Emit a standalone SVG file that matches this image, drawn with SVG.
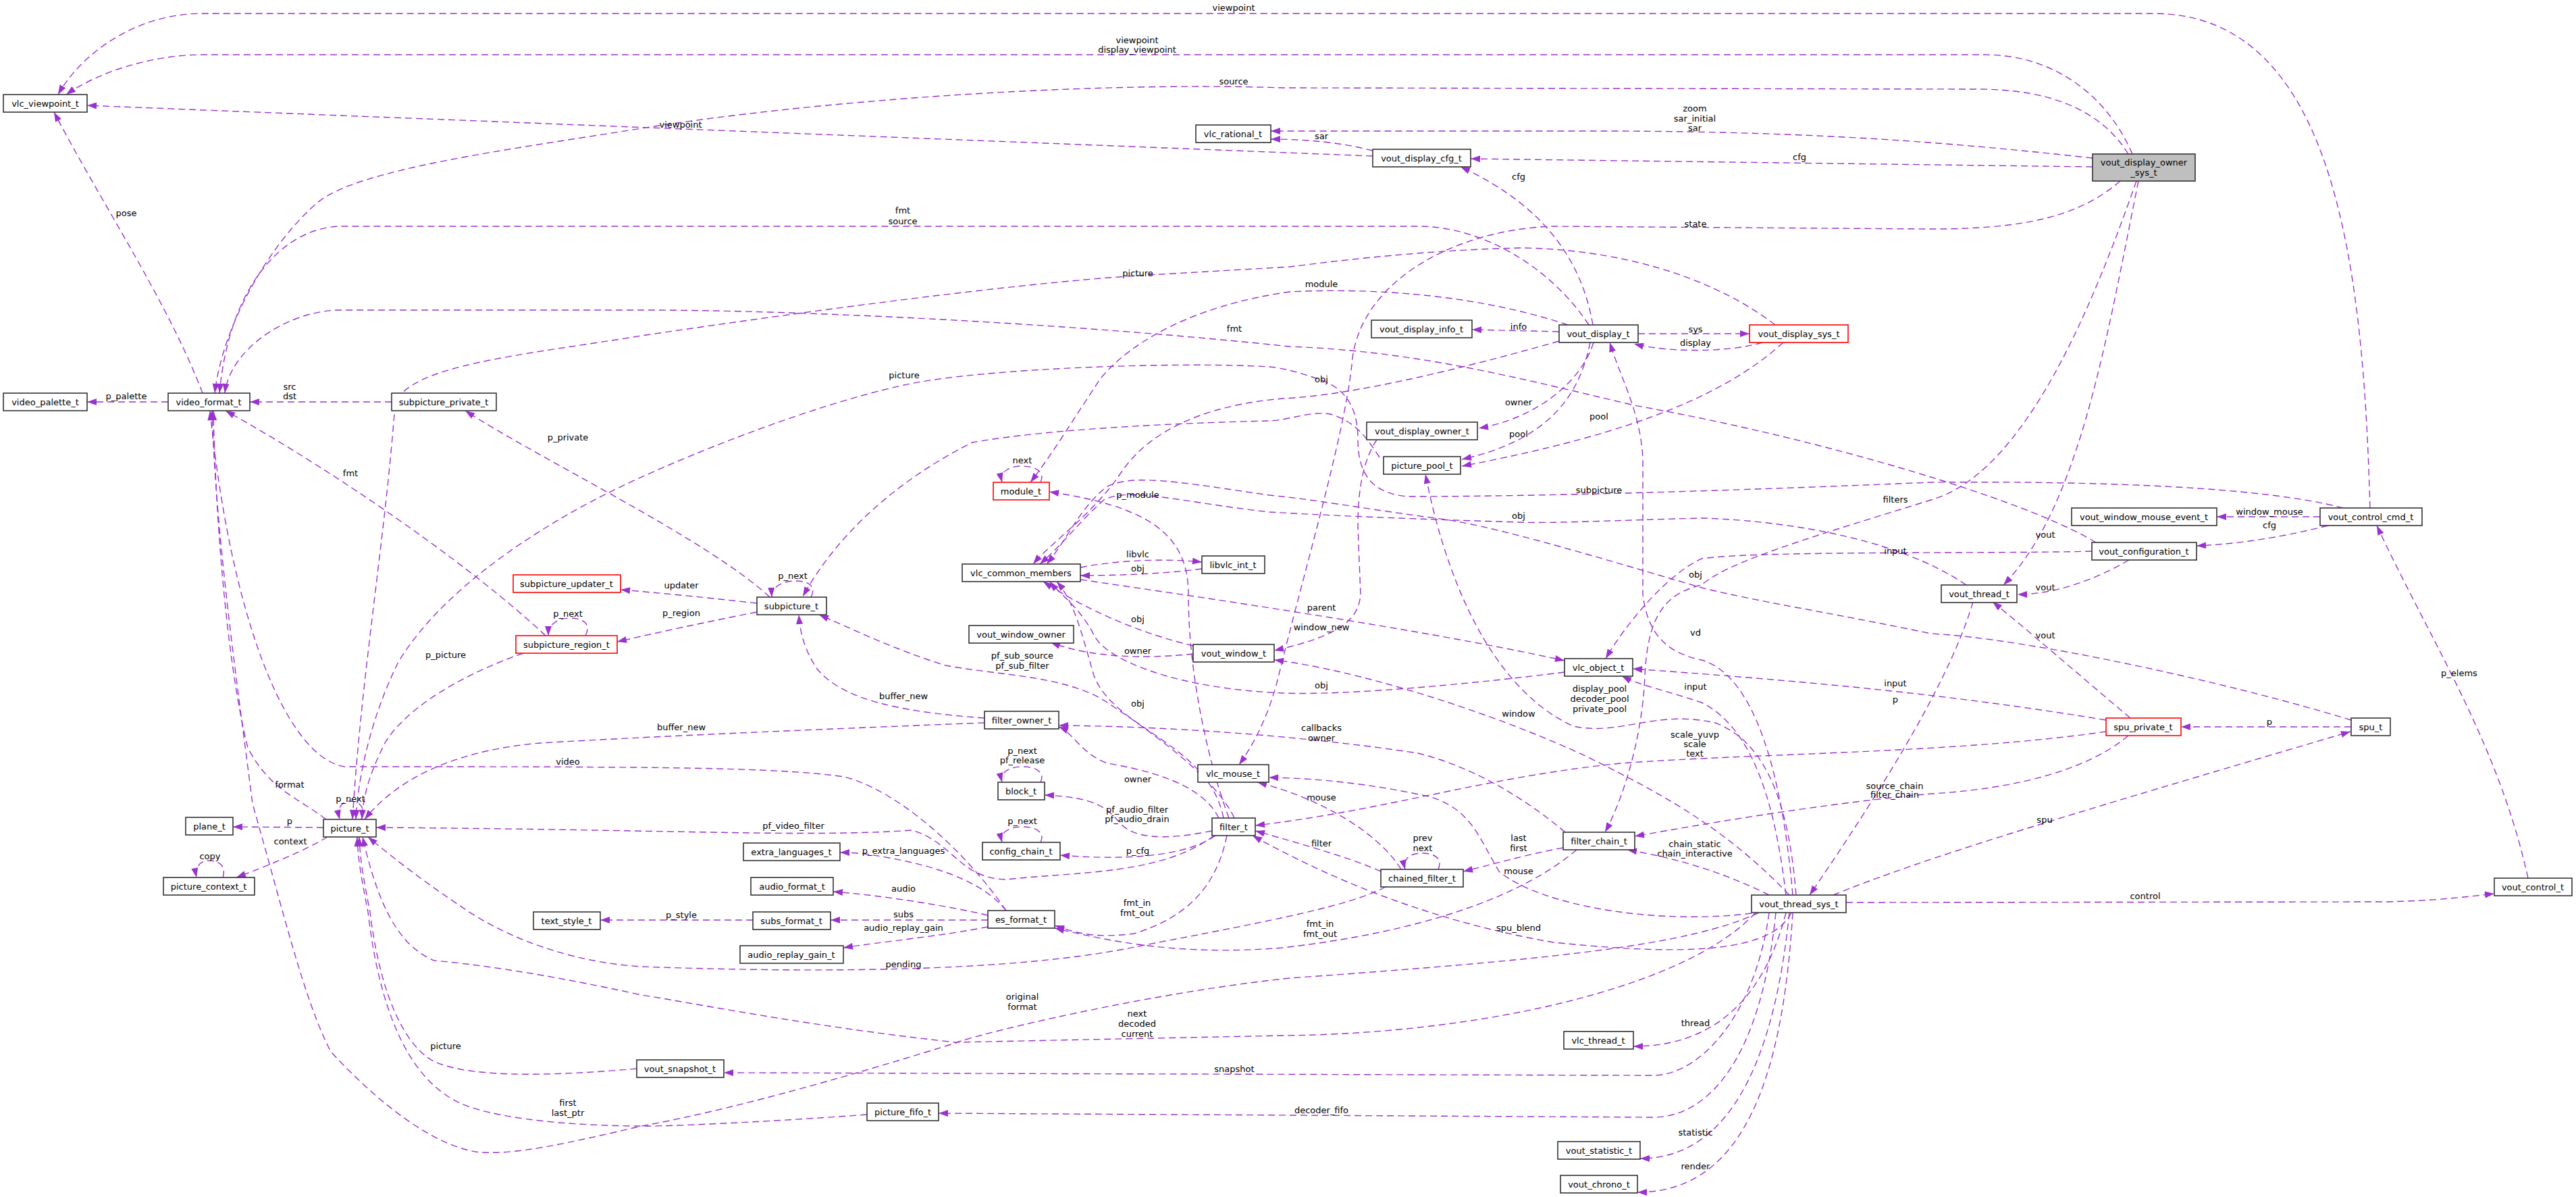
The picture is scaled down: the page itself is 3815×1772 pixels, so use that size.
<svg xmlns="http://www.w3.org/2000/svg" width="3815" height="1772" viewBox="0 0 3815 1772">
<style>
.n rect{fill:#fff;stroke:#333;stroke-width:1.6}
.n.r rect{stroke:#ff0000}
.n.g rect{fill:#bfbfbf}
text{font-family:"DejaVu Sans","Liberation Sans",sans-serif;font-size:13px;fill:#000;text-anchor:middle}
.e path{fill:none;stroke:#9a32cd;stroke-width:1.4;stroke-dasharray:10,6;marker-end:url(#a)}
</style>
<defs>
<marker id="a" viewBox="0 0 14 10" refX="14" refY="5" markerWidth="15" markerHeight="10" markerUnits="userSpaceOnUse" orient="auto"><path d="M0,0 L14,5 L0,10 z" fill="#9a32cd"/></marker>
</defs>
<rect width="3815" height="1772" fill="#fff"/>
<g class="e" id="edges">
<path d="M3510,752 C3500,400 3460,20 3189,20 L300,20 C200,20 120,80 86,140"/>
<path d="M3158,228 C3120,140 3040,81 2940,81 L300,81 C220,81 140,110 98,140"/>
<path d="M3152,228 C3110,160 3030,132 2930,132 L1900,130 C1600,120 1200,150 950,190 C750,222 530,250 470,300 C400,360 330,480 318,582"/>
<path d="M2033,231 C1500,210 600,175 129,156"/>
<path d="M2033,223 C1990,212 1940,206 1882,206"/>
<path d="M3099,234 C2900,212 2700,195 2390,194 L1882,194"/>
<path d="M3099,247 L2178,235"/>
<path d="M2359,481 C2345,400 2300,310 2163,247"/>
<path d="M2353,481 C2300,400 2200,335 2100,335 L500,335 C420,340 340,420 325,582"/>
<path d="M3140,268 C3080,320 3000,339 2860,339 L2300,335 C2150,340 2010,420 2002,540 C1990,650 1930,850 1892,1007 C1878,1060 1858,1100 1835,1132"/>
<path d="M2629,481 C2550,420 2420,370 2255,367 C2100,370 1950,390 1910,395 L1685,408 C1500,420 1200,460 950,497 C780,525 600,540 585,600 C570,800 535,1000 522,1213"/>
<path d="M2322,481 C2200,440 2050,425 1910,432 C1780,450 1680,500 1630,560 C1590,620 1560,670 1526,714"/>
<path d="M3104,803 C3000,740 2700,650 2420,600 C2250,560 2100,520 1910,513 C1600,480 1200,459 950,459 L500,459 C420,462 340,520 333,582"/>
<path d="M3470,752 C3350,720 3100,712 2860,714 C2600,725 2300,735 2084,735 C2030,730 2011,700 2011,650 C2011,600 1990,572 1949,560 C1920,550 1900,545 1880,543 C1750,535 1450,545 1339,570 C1200,600 1000,680 900,730 C780,790 650,880 590,980 C550,1060 530,1150 527,1213"/>
<path d="M2043,677 C2025,650 2010,625 1970,613 C1940,608 1910,622 1880,623 C1750,626 1550,635 1440,655 C1330,710 1240,790 1189,883"/>
<path d="M2309,505 C2150,550 2000,585 1900,590 C1780,600 1700,640 1660,700 C1620,760 1560,800 1530,835"/>
<path d="M2309,491 L2180,488"/>
<path d="M2426,494 L2591,494"/>
<path d="M2610,507 C2560,522 2470,522 2420,509"/>
<path d="M2360,507 C2340,570 2270,620 2190,634"/>
<path d="M2355,507 C2340,580 2300,650 2165,680"/>
<path d="M2641,507 C2560,580 2430,640 2165,690"/>
<path d="M3164,268 C3100,450 3000,700 2860,740 C2700,790 2560,830 2520,866 C2460,880 2440,920 2436,1000 C2432,1100 2400,1190 2377,1232"/>
<path d="M3167,268 C3120,500 3080,750 2967,866"/>
<path d="M3098,816 C2950,820 2600,815 2520,827 C2470,850 2410,920 2378,975"/>
<path d="M2912,866 C2800,790 2620,770 2520,767 C2400,770 2300,775 2247,773 C2150,770 2000,765 1880,758 C1760,745 1670,720 1635,740 C1600,770 1580,800 1540,835"/>
<path d="M3482,1066 C3300,1010 3000,945 2860,938 C2700,905 2600,890 2520,870 C2350,820 2200,775 2125,767 C2000,750 1950,740 1880,733 C1760,716 1680,700 1640,720 C1600,750 1580,800 1550,835"/>
<path d="M3436,765 L3283,765"/>
<path d="M3448,778 C3380,795 3320,805 3253,808"/>
<path d="M3153,829 C3100,860 3040,880 2988,880"/>
<path d="M3155,1063 C3080,1000 3000,930 2951,891"/>
<path d="M3482,1076 L3230,1076"/>
<path d="M2715,1325 C2850,1270 3050,1210 3481,1083"/>
<path d="M2734,1336 L3530,1335 C3600,1334 3650,1328 3694,1323"/>
<path d="M3744,1300 C3700,1100 3600,950 3520,778"/>
<path d="M2922,891 C2890,1000 2800,1150 2680,1325"/>
<path d="M3119,1066 C2900,1030 2700,1010 2418,990"/>
<path d="M3119,1083 C2900,1115 2600,1115 2400,1130 C2200,1150 2050,1200 1859,1222"/>
<path d="M3152,1089 C3080,1150 2950,1170 2860,1175 C2700,1190 2550,1215 2421,1238"/>
<path d="M2620,1325 C2550,1290 2480,1270 2410,1258"/>
<path d="M2655,1325 C2640,1150 2600,1000 2520,977 C2470,967 2440,940 2433,880 L2433,680 C2430,610 2400,560 2384,507"/>
<path d="M2660,1325 C2650,1200 2620,1100 2540,1070 C2450,1050 2400,1090 2330,1075 C2230,1030 2150,900 2111,702"/>
<path d="M2645,1325 C2630,1200 2600,1080 2520,1040 C2460,1020 2430,1015 2402,1001"/>
<path d="M2650,1325 C2550,1220 2450,1170 2350,1120 C2200,1050 2000,990 1887,977"/>
<path d="M2039,651 C2020,680 2011,720 2011,780 L2015,880 C2012,915 1990,940 1887,963"/>
<path d="M1600,858 C1750,880 2100,930 2317,978"/>
<path d="M2317,995 C2200,1010 2000,1030 1900,1026 C1750,1020 1640,980 1620,940 C1600,900 1570,880 1555,861"/>
<path d="M1600,840 C1650,830 1720,826 1780,832"/>
<path d="M1780,842 C1720,850 1650,852 1600,852"/>
<path d="M1767,956 C1700,940 1620,910 1545,861"/>
<path d="M1767,968 C1700,975 1620,975 1556,951"/>
<path d="M1812,1211 C1790,1100 1650,1080 1620,1000 C1600,930 1590,890 1565,861"/>
<path d="M1820,1211 C1790,1130 1760,1000 1760,880 C1760,790 1700,750 1554,728"/>
<path d="M1805,1211 C1780,1160 1700,1140 1640,1130 C1600,1115 1590,1085 1568,1076"/>
<path d="M1828,1211 C1800,1150 1700,1080 1640,1040 C1580,1000 1480,1000 1400,985 C1320,960 1260,930 1213,910"/>
<path d="M1795,1230 C1720,1245 1680,1240 1660,1220 C1640,1195 1620,1180 1547,1177"/>
<path d="M1800,1237 C1760,1265 1680,1275 1570,1266"/>
<path d="M1798,1237 C1720,1295 1600,1290 1490,1302 C1420,1300 1410,1245 1350,1229 C1200,1240 1000,1228 557,1225"/>
<path d="M1817,1237 C1800,1320 1750,1360 1680,1382 C1620,1390 1590,1380 1562,1370"/>
<path d="M2318,1232 C2280,1200 2200,1140 2100,1115 C1900,1085 1700,1075 1568,1074"/>
<path d="M2315,1255 C2260,1265 2210,1280 2167,1290"/>
<path d="M2335,1258 C2250,1330 2100,1380 1900,1403 C1750,1415 1650,1395 1562,1374"/>
<path d="M2045,1290 C2000,1270 1930,1250 1859,1230"/>
<path d="M2075,1287 C2040,1230 1950,1180 1862,1158"/>
<path d="M2594,1352 C2450,1370 2280,1340 2220,1290 C2190,1240 2180,1200 2120,1180 C2030,1160 1950,1152 1879,1151"/>
<path d="M2653,1351 C2620,1420 2450,1410 2300,1395 C2100,1360 1950,1290 1855,1237"/>
<path d="M2052,1313 C2000,1340 1900,1360 1685,1401 C1500,1440 1200,1440 950,1431 C850,1425 750,1390 680,1340 C620,1300 570,1260 545,1239"/>
<path d="M2600,1351 C2500,1460 2200,1530 1900,1533 L1415,1543 C1200,1520 1000,1480 950,1473 C800,1440 700,1427 643,1422 C590,1400 560,1340 537,1239"/>
<path d="M2605,1351 C2500,1400 2300,1420 1910,1448 C1700,1470 1450,1530 1415,1544 C1300,1580 1100,1640 950,1667 C850,1690 760,1712 704,1705 C620,1690 530,1600 490,1557 C450,1480 420,1350 374,1190 C350,1000 320,800 314,608"/>
<path d="M2620,1351 C2600,1500 2520,1590 2450,1592 L1072,1588"/>
<path d="M2630,1351 C2610,1550 2540,1652 2450,1654 L1390,1648"/>
<path d="M2645,1351 C2620,1450 2560,1549 2419,1549"/>
<path d="M2650,1351 C2630,1550 2570,1715 2429,1715"/>
<path d="M2655,1351 C2640,1600 2580,1765 2425,1765"/>
<path d="M1284,1650 C1150,1660 1000,1667 960,1667 C860,1667 760,1659 700,1640 C600,1610 560,1480 545,1350 C535,1300 530,1270 529,1239"/>
<path d="M943,1582 C850,1590 700,1600 640,1570 C590,1540 560,1450 548,1350 C538,1300 533,1270 532,1239"/>
<path d="M1463,1355 C1400,1340 1300,1325 1234,1320"/>
<path d="M1463,1362 L1230,1362"/>
<path d="M1463,1372 C1400,1385 1300,1395 1249,1403"/>
<path d="M1490,1348 C1460,1310 1400,1285 1317,1270 C1290,1265 1270,1262 1244,1262"/>
<path d="M1115,1362 L889,1362"/>
<path d="M1490,1348 C1430,1260 1330,1170 1250,1150 C1150,1135 950,1135 510,1135 C420,1120 340,900 311,608"/>
<path d="M1458,1063 C1350,1055 1250,1040 1210,990 C1190,960 1185,935 1183,910"/>
<path d="M1458,1070 C1200,1080 950,1091 800,1100 C680,1110 590,1150 540,1213"/>
<path d="M1121,906 C1050,920 980,935 914,950"/>
<path d="M1121,893 C1050,885 980,878 919,873"/>
<path d="M1140,884 C1050,800 800,680 689,608"/>
<path d="M775,967 C680,1000 600,1050 570,1100 C545,1150 538,1180 536,1213"/>
<path d="M808,941 C700,840 500,700 334,608"/>
<path d="M300,582 C250,450 150,300 80,166"/>
<path d="M249,595 L129,595"/>
<path d="M580,595 L370,595"/>
<path d="M483,1213 C440,1180 400,1170 367,1107 C340,1000 320,800 316,608"/>
<path d="M479,1225 L345,1224"/>
<path d="M485,1239 C450,1260 400,1280 350,1299"/>
<path d="M535,1213 C542,1192 530,1186 518,1186 C506,1186 499,1196 503,1213"/>
<path d="M330,1299 C336,1280 322,1274 310,1274 C296,1274 288,1284 291,1299"/>
<path d="M867,941 C876,924 864,915 845,915 C828,915 812,922 812,941"/>
<path d="M1201,884 C1210,867 1196,860 1178,860 C1160,860 1142,868 1143,884"/>
<path d="M1541,714 C1548,699 1535,690 1513,690 C1495,690 1480,698 1484,714"/>
<path d="M1541,1158 C1548,1143 1535,1135 1513,1135 C1495,1135 1480,1143 1484,1158"/>
<path d="M1541,1247 C1548,1232 1535,1224 1513,1224 C1495,1224 1480,1232 1484,1247"/>
<path d="M2130,1287 C2137,1271 2125,1263 2105,1263 C2088,1263 2077,1272 2081,1287"/>
</g>
<g id="labels">
<text x="1827" y="16">viewpoint</text>
<text x="1684" y="64">viewpoint</text>
<text x="1684" y="78">display_viewpoint</text>
<text x="1827" y="125">source</text>
<text x="1008" y="189">viewpoint</text>
<text x="1957" y="206">sar</text>
<text x="2510" y="165">zoom</text>
<text x="2510" y="180">sar_initial</text>
<text x="2510" y="194">sar</text>
<text x="2665" y="237">cfg</text>
<text x="2249" y="266">cfg</text>
<text x="1337" y="316">fmt</text>
<text x="1337" y="332">source</text>
<text x="2511" y="336">state</text>
<text x="1685" y="409">picture</text>
<text x="1957" y="425">module</text>
<text x="1828" y="491">fmt</text>
<text x="2249" y="488">info</text>
<text x="2511" y="492">sys</text>
<text x="2511" y="512">display</text>
<text x="1339" y="560">picture</text>
<text x="1957" y="566">obj</text>
<text x="2249" y="600">owner</text>
<text x="2368" y="621">pool</text>
<text x="2249" y="647">pool</text>
<text x="187" y="320">pose</text>
<text x="187" y="591">p_palette</text>
<text x="429" y="577">src</text>
<text x="429" y="591">dst</text>
<text x="841" y="652">p_private</text>
<text x="519" y="705">fmt</text>
<text x="1514" y="686">next</text>
<text x="2368" y="730">subpicture</text>
<text x="1685" y="737">p_module</text>
<text x="2807" y="744">filters</text>
<text x="2249" y="768">obj</text>
<text x="3029" y="796">vout</text>
<text x="3361" y="762">window_mouse</text>
<text x="3361" y="782">cfg</text>
<text x="2807" y="820">input</text>
<text x="1685" y="825">libvlc</text>
<text x="1685" y="846">obj</text>
<text x="2511" y="855">obj</text>
<text x="1174" y="857">p_next</text>
<text x="1009" y="871">updater</text>
<text x="3029" y="874">vout</text>
<text x="1957" y="904">parent</text>
<text x="841" y="913">p_next</text>
<text x="1009" y="912">p_region</text>
<text x="1685" y="921">obj</text>
<text x="1957" y="933">window_new</text>
<text x="2511" y="941">vd</text>
<text x="3029" y="945">vout</text>
<text x="1685" y="968">owner</text>
<text x="660" y="974">p_picture</text>
<text x="1514" y="975">pf_sub_source</text>
<text x="1514" y="990">pf_sub_filter</text>
<text x="3642" y="1001">p_elems</text>
<text x="2807" y="1016">input</text>
<text x="1957" y="1019">obj</text>
<text x="2511" y="1021">input</text>
<text x="2369" y="1024">display_pool</text>
<text x="2369" y="1039">decoder_pool</text>
<text x="2369" y="1054">private_pool</text>
<text x="1338" y="1035">buffer_new</text>
<text x="2807" y="1040">p</text>
<text x="1685" y="1046">obj</text>
<text x="2249" y="1061">window</text>
<text x="3361" y="1073">p</text>
<text x="1957" y="1082">callbacks</text>
<text x="1957" y="1097">owner</text>
<text x="1009" y="1081">buffer_new</text>
<text x="2510" y="1092">scale_yuvp</text>
<text x="2510" y="1106">scale</text>
<text x="2510" y="1120">text</text>
<text x="1514" y="1116">p_next</text>
<text x="1514" y="1130">pf_release</text>
<text x="841" y="1132">video</text>
<text x="1685" y="1158">owner</text>
<text x="429" y="1166">format</text>
<text x="2806" y="1168">source_chain</text>
<text x="2806" y="1181">filter_chain</text>
<text x="1957" y="1185">mouse</text>
<text x="519" y="1187">p_next</text>
<text x="1684" y="1203">pf_audio_filter</text>
<text x="1684" y="1217">pf_audio_drain</text>
<text x="3028" y="1218">spu</text>
<text x="429" y="1220">p</text>
<text x="1514" y="1220">p_next</text>
<text x="1175" y="1227">pf_video_filter</text>
<text x="2107" y="1245">prev</text>
<text x="2107" y="1260">next</text>
<text x="2249" y="1245">last</text>
<text x="2249" y="1260">first</text>
<text x="1957" y="1253">filter</text>
<text x="2510" y="1254">chain_static</text>
<text x="2510" y="1268">chain_interactive</text>
<text x="430" y="1250">context</text>
<text x="1338" y="1264">p_extra_languages</text>
<text x="1685" y="1264">p_cfg</text>
<text x="311" y="1272">copy</text>
<text x="2249" y="1294">mouse</text>
<text x="1338" y="1320">audio</text>
<text x="3177" y="1331">control</text>
<text x="1684" y="1341">fmt_in</text>
<text x="1684" y="1356">fmt_out</text>
<text x="1338" y="1358">subs</text>
<text x="1009" y="1359">p_style</text>
<text x="1955" y="1372">fmt_in</text>
<text x="1955" y="1387">fmt_out</text>
<text x="2249" y="1378">spu_blend</text>
<text x="1338" y="1378">audio_replay_gain</text>
<text x="1338" y="1432">pending</text>
<text x="1514" y="1480">original</text>
<text x="1514" y="1495">format</text>
<text x="1684" y="1505">next</text>
<text x="1684" y="1520">decoded</text>
<text x="1684" y="1535">current</text>
<text x="2511" y="1519">thread</text>
<text x="660" y="1553">picture</text>
<text x="1828" y="1587">snapshot</text>
<text x="841" y="1637">first</text>
<text x="841" y="1652">last_ptr</text>
<text x="1957" y="1648">decoder_fifo</text>
<text x="2511" y="1681">statistic</text>
<text x="2511" y="1731">render</text>
</g>
<g id="vlc_viewpoint_t" class="n"><rect x="5" y="140" width="124" height="26"/><text x="67" y="158">vlc_viewpoint_t</text></g>
<g id="video_palette_t" class="n"><rect x="5" y="582" width="124" height="26"/><text x="67" y="600">video_palette_t</text></g>
<g id="video_format_t" class="n"><rect x="249" y="582" width="121" height="26"/><text x="309" y="600">video_format_t</text></g>
<g id="subpicture_private_t" class="n"><rect x="580" y="582" width="155" height="26"/><text x="657" y="600">subpicture_private_t</text></g>
<g id="vlc_rational_t" class="n"><rect x="1771" y="185" width="111" height="26"/><text x="1826" y="203">vlc_rational_t</text></g>
<g id="vout_display_cfg_t" class="n"><rect x="2033" y="221" width="145" height="26"/><text x="2105" y="239">vout_display_cfg_t</text></g>
<g id="vout_display_owner_sys_t" class="n g"><rect x="3099" y="228" width="152" height="40"/><text x="3175" y="245">vout_display_owner</text><text x="3175" y="260">_sys_t</text></g>
<g id="vout_display_info_t" class="n"><rect x="2031" y="474" width="149" height="26"/><text x="2105" y="492">vout_display_info_t</text></g>
<g id="vout_display_t" class="n"><rect x="2309" y="481" width="117" height="26"/><text x="2367" y="499">vout_display_t</text></g>
<g id="vout_display_sys_t" class="n r"><rect x="2591" y="481" width="146" height="26"/><text x="2664" y="499">vout_display_sys_t</text></g>
<g id="module_t" class="n r"><rect x="1471" y="714" width="83" height="26"/><text x="1512" y="732">module_t</text></g>
<g id="vout_display_owner_t" class="n"><rect x="2024" y="625" width="164" height="26"/><text x="2106" y="643">vout_display_owner_t</text></g>
<g id="picture_pool_t" class="n"><rect x="2049" y="676" width="114" height="26"/><text x="2106" y="694">picture_pool_t</text></g>
<g id="vlc_common_members" class="n"><rect x="1425" y="835" width="175" height="26"/><text x="1512" y="853">vlc_common_members</text></g>
<g id="libvlc_int_t" class="n"><rect x="1780" y="823" width="93" height="26"/><text x="1826" y="841">libvlc_int_t</text></g>
<g id="subpicture_updater_t" class="n r"><rect x="760" y="851" width="159" height="26"/><text x="839" y="869">subpicture_updater_t</text></g>
<g id="subpicture_t" class="n"><rect x="1121" y="884" width="103" height="26"/><text x="1172" y="902">subpicture_t</text></g>
<g id="subpicture_region_t" class="n r"><rect x="764" y="941" width="150" height="26"/><text x="839" y="959">subpicture_region_t</text></g>
<g id="vout_window_owner" class="n"><rect x="1435" y="926" width="155" height="26"/><text x="1512" y="944">vout_window_owner</text></g>
<g id="vout_window_t" class="n"><rect x="1767" y="954" width="120" height="26"/><text x="1827" y="972">vout_window_t</text></g>
<g id="vlc_object_t" class="n"><rect x="2317" y="975" width="101" height="26"/><text x="2367" y="993">vlc_object_t</text></g>
<g id="vout_window_mouse_event_t" class="n"><rect x="3068" y="752" width="215" height="26"/><text x="3175" y="770">vout_window_mouse_event_t</text></g>
<g id="vout_control_cmd_t" class="n"><rect x="3436" y="752" width="151" height="26"/><text x="3511" y="770">vout_control_cmd_t</text></g>
<g id="vout_configuration_t" class="n"><rect x="3098" y="803" width="155" height="26"/><text x="3175" y="821">vout_configuration_t</text></g>
<g id="vout_thread_t" class="n"><rect x="2875" y="866" width="112" height="26"/><text x="2931" y="884">vout_thread_t</text></g>
<g id="filter_owner_t" class="n"><rect x="1458" y="1053" width="110" height="26"/><text x="1513" y="1071">filter_owner_t</text></g>
<g id="vlc_mouse_t" class="n"><rect x="1774" y="1132" width="105" height="26"/><text x="1826" y="1150">vlc_mouse_t</text></g>
<g id="block_t" class="n"><rect x="1478" y="1158" width="69" height="26"/><text x="1512" y="1176">block_t</text></g>
<g id="spu_private_t" class="n r"><rect x="3119" y="1063" width="111" height="26"/><text x="3174" y="1081">spu_private_t</text></g>
<g id="spu_t" class="n"><rect x="3482" y="1063" width="58" height="26"/><text x="3511" y="1081">spu_t</text></g>
<g id="plane_t" class="n"><rect x="275" y="1210" width="70" height="26"/><text x="310" y="1228">plane_t</text></g>
<g id="picture_t" class="n"><rect x="479" y="1213" width="78" height="26"/><text x="518" y="1231">picture_t</text></g>
<g id="picture_context_t" class="n"><rect x="242" y="1299" width="135" height="26"/><text x="309" y="1317">picture_context_t</text></g>
<g id="config_chain_t" class="n"><rect x="1455" y="1247" width="115" height="26"/><text x="1512" y="1265">config_chain_t</text></g>
<g id="extra_languages_t" class="n"><rect x="1101" y="1248" width="143" height="26"/><text x="1172" y="1266">extra_languages_t</text></g>
<g id="audio_format_t" class="n"><rect x="1112" y="1299" width="122" height="26"/><text x="1173" y="1317">audio_format_t</text></g>
<g id="subs_format_t" class="n"><rect x="1115" y="1350" width="115" height="26"/><text x="1172" y="1368">subs_format_t</text></g>
<g id="text_style_t" class="n"><rect x="790" y="1350" width="99" height="26"/><text x="839" y="1368">text_style_t</text></g>
<g id="es_format_t" class="n"><rect x="1463" y="1348" width="99" height="26"/><text x="1512" y="1366">es_format_t</text></g>
<g id="audio_replay_gain_t" class="n"><rect x="1096" y="1400" width="153" height="26"/><text x="1172" y="1418">audio_replay_gain_t</text></g>
<g id="filter_t" class="n"><rect x="1795" y="1211" width="64" height="26"/><text x="1827" y="1229">filter_t</text></g>
<g id="filter_chain_t" class="n"><rect x="2315" y="1232" width="106" height="26"/><text x="2368" y="1250">filter_chain_t</text></g>
<g id="chained_filter_t" class="n"><rect x="2045" y="1287" width="122" height="26"/><text x="2106" y="1305">chained_filter_t</text></g>
<g id="vout_thread_sys_t" class="n"><rect x="2594" y="1325" width="140" height="26"/><text x="2664" y="1343">vout_thread_sys_t</text></g>
<g id="vout_control_t" class="n"><rect x="3694" y="1300" width="115" height="26"/><text x="3751" y="1318">vout_control_t</text></g>
<g id="vlc_thread_t" class="n"><rect x="2316" y="1527" width="103" height="26"/><text x="2367" y="1545">vlc_thread_t</text></g>
<g id="vout_snapshot_t" class="n"><rect x="943" y="1569" width="129" height="26"/><text x="1007" y="1587">vout_snapshot_t</text></g>
<g id="picture_fifo_t" class="n"><rect x="1284" y="1633" width="106" height="26"/><text x="1337" y="1651">picture_fifo_t</text></g>
<g id="vout_statistic_t" class="n"><rect x="2307" y="1690" width="122" height="26"/><text x="2368" y="1708">vout_statistic_t</text></g>
<g id="vout_chrono_t" class="n"><rect x="2311" y="1740" width="114" height="26"/><text x="2368" y="1758">vout_chrono_t</text></g>
</svg>
